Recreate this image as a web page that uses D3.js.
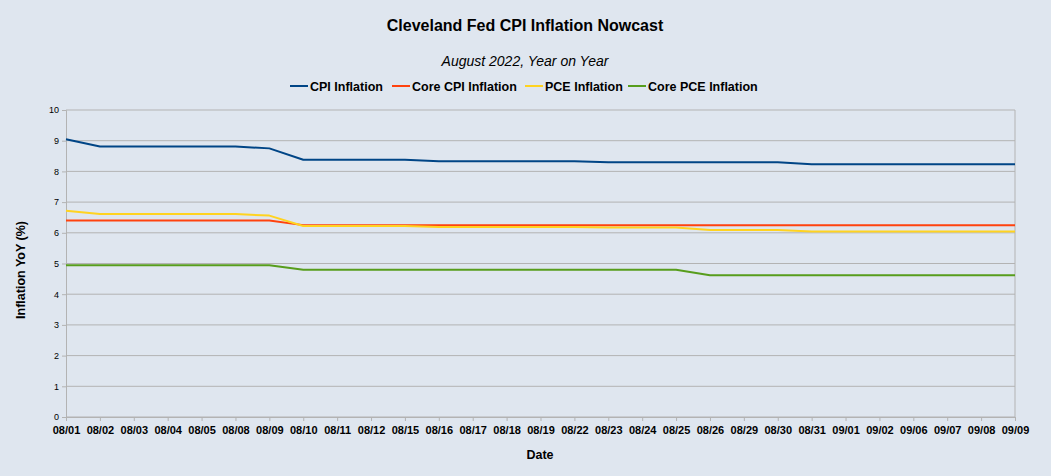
<!DOCTYPE html>
<html>
<head>
<meta charset="UTF-8">
<title>Cleveland Fed CPI Inflation Nowcast</title>
<style>
  body { margin: 0; background: #dfe6ef; }
  text { font-family: "Liberation Sans", Arial, sans-serif; fill: #000; }
</style>
</head>
<body>
<script src="https://cdn.jsdelivr.net/npm/d3@7/dist/d3.min.js"></script>
<script>
  // data
  const dates = ["08/01", "08/02", "08/03", "08/04", "08/05", "08/08", "08/09", "08/10", "08/11", "08/12",
                 "08/15", "08/16", "08/17", "08/18", "08/19", "08/22", "08/23", "08/24", "08/25", "08/26",
                 "08/29", "08/30", "08/31", "09/01", "09/02", "09/06", "09/07", "09/08", "09/09"]
  const cpi = [9.05, 8.81, 8.81, 8.81, 8.81, 8.81, 8.75, 8.38, 8.38, 8.38,
               8.38, 8.33, 8.33, 8.33, 8.33, 8.33, 8.30, 8.30, 8.30, 8.30,
               8.30, 8.30, 8.23, 8.23, 8.23, 8.23, 8.23, 8.23, 8.23]
  const coreCpi = [6.40, 6.40, 6.40, 6.40, 6.40, 6.40, 6.40, 6.25, 6.25, 6.25,
                   6.25, 6.25, 6.25, 6.25, 6.25, 6.25, 6.25, 6.25, 6.25, 6.25,
                   6.25, 6.25, 6.25, 6.25, 6.25, 6.25, 6.25, 6.25, 6.25]
  const pce = [6.72, 6.61, 6.61, 6.61, 6.61, 6.61, 6.56, 6.22, 6.22, 6.22,
               6.22, 6.19, 6.19, 6.19, 6.19, 6.19, 6.17, 6.17, 6.17, 6.09,
               6.09, 6.09, 6.04, 6.04, 6.04, 6.04, 6.04, 6.04, 6.04]
  const corePce = [4.94, 4.94, 4.94, 4.94, 4.94, 4.94, 4.94, 4.80, 4.80, 4.80,
                   4.80, 4.80, 4.80, 4.80, 4.80, 4.80, 4.80, 4.80, 4.80, 4.62,
                   4.62, 4.62, 4.62, 4.62, 4.62, 4.62, 4.62, 4.62, 4.62]
  const seriesNames = ["CPI Inflation", "Core CPI Inflation", "PCE Inflation", "Core PCE Inflation"]
  const seriesColors = ["#004586", "#ff420e", "#ffd320", "#579d1c"]
  const yTicks = [0, 1, 2, 3, 4, 5, 6, 7, 8, 9, 10]

  const series = [cpi, coreCpi, pce, corePce]

  const width = 1051, height = 476
  const plotLeft = 66, plotRight = 1015, plotTop = 110, plotBottom = 417

  let svg = d3.select("body").append("svg")
      .attr("width", width)
      .attr("height", height)

  svg.append("rect").attr("width", width).attr("height", height).attr("fill", "#dfe6ef")

  let x = d3.scalePoint().domain(dates).range([plotLeft, plotRight])
  let y = d3.scaleLinear().domain([0, 10]).range([plotBottom, plotTop])

  // grid
  svg.append("g").selectAll("line")
      .data(yTicks).enter()
      .append("line")
      .attr("x1", plotLeft).attr("x2", plotRight)
      .attr("y1", d => y(d)).attr("y2", d => y(d))
      .attr("stroke", "#b3b3b3").attr("stroke-width", 1)
  svg.append("line")
      .attr("x1", plotRight).attr("x2", plotRight).attr("y1", plotTop).attr("y2", plotBottom)
      .attr("stroke", "#b3b3b3")

  // y axis
  let yAxis = svg.append("g")
      .attr("transform", "translate(" + plotLeft + ",0)")
      .call(d3.axisLeft(y).tickValues(yTicks).tickSize(4).tickPadding(3))
  yAxis.select(".domain").attr("stroke", "#b3b3b3")
  yAxis.selectAll(".tick line").attr("stroke", "#b3b3b3")
  yAxis.selectAll(".tick text")
      .style("font-family", "'Liberation Sans', Arial, sans-serif")
      .style("font-size", "9px").attr("fill", "#000")

  // x axis
  let xAxis = svg.append("g")
      .attr("transform", "translate(0," + plotBottom + ")")
      .call(d3.axisBottom(x).tickSize(4).tickPadding(5).tickSizeOuter(0))
  xAxis.select(".domain").attr("stroke", "#b3b3b3")
  xAxis.selectAll(".tick line").attr("stroke", "#b3b3b3")
  xAxis.selectAll(".tick text")
      .style("font-family", "'Liberation Sans', Arial, sans-serif")
      .style("font-size", "11px").style("font-weight", "bold").attr("fill", "#000")

  // lines
  let line = d3.line()
      .x((d, i) => x(dates[i]))
      .y(d => y(d))

  svg.append("g").selectAll("path")
      .data(series).enter()
      .append("path")
      .attr("d", d => line(d))
      .attr("fill", "none")
      .attr("stroke", (d, i) => seriesColors[i])
      .attr("stroke-width", 2)
      .attr("stroke-linejoin", "round")

  // titles
  svg.append("text")
      .attr("x", 525).attr("y", 31)
      .attr("text-anchor", "middle")
      .style("font-size", "16px").style("font-weight", "bold")
      .text("Cleveland Fed CPI Inflation Nowcast")

  svg.append("text")
      .attr("x", 525).attr("y", 66)
      .attr("text-anchor", "middle")
      .style("font-size", "14px").style("font-style", "italic")
      .text("August 2022, Year on Year")

  svg.append("text")
      .attr("x", 540).attr("y", 459)
      .attr("text-anchor", "middle")
      .style("font-size", "12.5px").style("font-weight", "bold")
      .text("Date")

  svg.append("text")
      .attr("transform", "translate(25,270) rotate(-90)")
      .attr("text-anchor", "middle")
      .style("font-size", "12.5px").style("font-weight", "bold")
      .text("Inflation YoY (%)")

  // legend
  let legendX = [290, 392, 525, 628]
  let legend = svg.append("g").selectAll("g")
      .data(seriesNames).enter()
      .append("g")
      .attr("transform", (d, i) => "translate(" + legendX[i] + ",86)")
  legend.append("line")
      .attr("x1", 0).attr("x2", 18)
      .attr("stroke", (d, i) => seriesColors[i])
      .attr("stroke-width", 2)
  legend.append("text")
      .attr("x", 20).attr("y", 4.5)
      .style("font-size", "12.5px").style("font-weight", "bold")
      .text(d => d)
</script>
</body>
</html>
